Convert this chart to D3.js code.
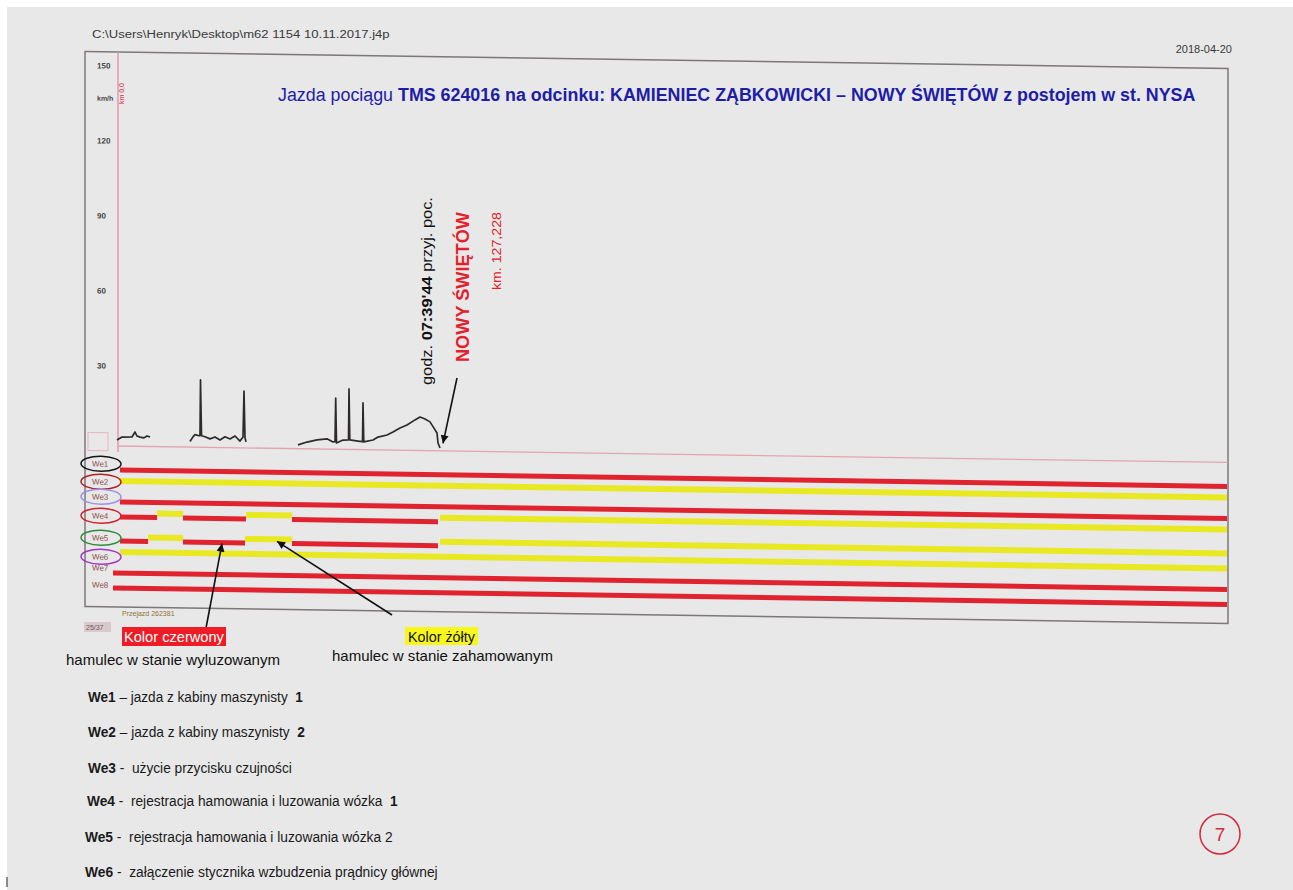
<!DOCTYPE html>
<html><head><meta charset="utf-8">
<script src="https://cdn.jsdelivr.net/npm/d3@7"></script>
<style>body{margin:0;background:#fff}svg{display:block}</style>
</head><body>
<svg id="c" width="1293" height="890"></svg>
<script>
// ================= DATA =================
// speed trace (time units along the record, km/h); null = no record
const speedTime  = [4,9,19,22,24,27,31,34,37,38,
                    77,80,82,86,87,87.5,88.5,92,97,102,107,112,117,122,127,130,131,132,133,134,
                    185,194,204,214,220,222,222.7,223.5,230,235.5,236,236.8,245,249.5,250,250.8,260,265,274,280,287,294,302,307,312,317,320,324,325,327];
const speedValue = [2.4,3.6,3.7,5.7,4.1,3.7,3.4,4.2,3.8,null,
                    2.2,4.1,5.0,4.6,4.6,26.9,4.6,4.2,3.4,4.2,3.0,4.3,3.5,4.7,2.7,4.3,22.7,4.0,2.4,null,
                    1.5,2.7,3.6,4.1,2.9,3.0,20.5,2.5,3.7,3.8,24.2,3.8,3.4,3.2,18.7,3.1,3.9,5.1,6.0,7.2,8.9,10.1,12.2,13.4,12.6,11.5,9.6,7.1,3.1,1.1];
const speedTicks = [30,60,90,120,150];
const speedUnitAt = 138;

// binary channels: [start, end, state]  state 0 = red (released), 1 = yellow (braked)
const channels = ["We1","We2","We3","We4","We5","We6","We7","We8"];
const segWe1 = [[7,1114,0]];
const segWe2 = [[7,1114,1]];
const segWe3 = [[7,1114,0]];
const segWe4 = [[7,44,0],[44,70,1],[70,133,0],[133,179,1],[179,325,0],[327,1114,1]];
const segWe5 = [[7,35,0],[35,70,1],[70,132,0],[132,179,1],[179,325,0],[327,1114,1]];
const segWe6 = [[7,1114,1]];
const segWe7 = [[0,1114,0]];
const segWe8 = [[0,1114,0]];
const channelSegs = [segWe1,segWe2,segWe3,segWe4,segWe5,segWe6,segWe7,segWe8];
const circledChannels = ["We1","We2","We3","We4","We5","We6"];
const circleColors = ["#151515","#b32025","#9b90e6","#d3202e","#2f8c3c","#a535c4"];

// legend
const legendCodes = ["We1","We2","We3","We4","We5","We6"];
const legendSep   = [" – "," – "," -  "," -  "," -  "," -  "];
const legendText  = ["jazda z kabiny maszynisty  ","jazda z kabiny maszynisty  ","użycie przycisku czujności",
                     "rejestracja hamowania i luzowania wózka  ","rejestracja hamowania i luzowania wózka 2",
                     "załączenie stycznika wzbudzenia prądnicy głównej"];
const legendBoldTail = ["1","2","","1","",""];

// annotation anchors (time, value)
const arrivalTime = 330, arrivalLabel = "07:39'44";
const redArrowAt = 109, yellowArrowAt = 164;

// ================= LAYOUT =================
const SANS = "'Liberation Sans',Arial,sans-serif";
const NARROW = "'Liberation Sans Narrow','Arial Narrow','Liberation Sans',Arial,sans-serif";
const k = Math.tan(0.85*Math.PI/180), X0 = 118;
const sk = (px,py) => py + (px - X0)*k;

const svg = d3.select("#c");
svg.append("rect").attr("width",1293).attr("height",890).attr("fill","#fff");
svg.append("rect").attr("x",7).attr("y",7).attr("width",1286).attr("height",883).attr("fill","#e8e8e8");

// fit a text horizontally to a width by scaling (narrow-font look)
function fit(sel, tx, ty, w, rot){
  const n = sel.node().getComputedTextLength();
  const s = w / n;
  sel.attr("transform", `translate(${tx},${ty})${rot ? ` rotate(${rot})` : ""} scale(${s},1)`);
  return sel;
}

const defs = svg.append("defs");
defs.append("marker").attr("id","ah").attr("viewBox","0 0 10 10").attr("refX",10).attr("refY",5)
  .attr("markerWidth",11).attr("markerHeight",8).attr("markerUnits","userSpaceOnUse").attr("orient","auto")
  .append("path").attr("d","M0,0L10,5L0,10z").attr("fill","#111");

const x = d3.scaleLinear().domain([0,1115]).range([113,1228]);
const y = d3.scaleLinear().domain([0,150]).range([446,71]);
const chY = d3.scaleOrdinal().domain(channels).range([470,485,502,517,541,556,573,588]);
const labY = d3.scaleOrdinal().domain(channels).range([464,482,497,516,538,557,568,585]);
const stateColor = ["#e1232f","#e8e823"];
const stateWidth = [5,6];
const lift = [0,4];

// header
fit(svg.append("text").attr("font-family",SANS).attr("font-size",11).attr("fill","#3a3a3a")
  .text("C:\\Users\\Henryk\\Desktop\\m62 1154 10.11.2017.j4p"), 92, 38, 298);
svg.append("text").attr("x",1232).attr("y",53).attr("text-anchor","end").attr("font-family",SANS)
  .attr("font-size",11).attr("fill","#3a3a3a").text("2018-04-20");

// ===== skewed chart (scanned sheet) =====
const g = svg.append("g").attr("transform",`translate(0,${-X0*k}) skewY(0.85)`);
g.append("rect").attr("x",85).attr("y",52).attr("width",1143).attr("height",555)
  .attr("fill","none").attr("stroke","#7d777a").attr("stroke-width",1.5);
g.append("line").attr("x1",118).attr("x2",118).attr("y1",52).attr("y2",452)
  .attr("stroke","#e59aac").attr("stroke-width",1.5);
g.append("line").attr("x1",118).attr("x2",1228).attr("y1",y(0)).attr("y2",y(0))
  .attr("stroke","#e2a6b2").attr("stroke-width",1.3);
g.append("rect").attr("x",88).attr("y",433).attr("width",20).attr("height",18)
  .attr("fill","none").attr("stroke","#e9b4bf").attr("stroke-width",1);

// speed axis labels
const ax = g.append("g").attr("transform","translate(97,0)")
  .call(d3.axisRight(y).tickValues(speedTicks).tickSize(0).tickPadding(0));
ax.select(".domain").remove();
ax.selectAll("text").attr("dy","-0.35em").attr("font-family",SANS).attr("font-size",8)
  .attr("font-weight","bold").attr("fill","#444");
g.append("text").attr("x",97).attr("y",y(speedUnitAt)).attr("font-family",SANS).attr("font-size",7)
  .attr("font-weight","bold").attr("fill","#444").text("km/h");
g.append("text").attr("transform","translate(124,104) rotate(-90)").attr("font-family",SANS)
  .attr("font-size",7).attr("fill","#d4203a").text("km 0,0");

// speed trace
const sp = speedTime.map((t,i)=>({t, v:speedValue[i]}));
g.append("path").datum(sp)
  .attr("d", d3.line().defined(d=>d.v!==null).x(d=>x(d.t)).y(d=>y(d.v)))
  .attr("fill","none").attr("stroke","#2e2a2b").attr("stroke-width",1.7).attr("stroke-linejoin","round");

// channel bars
channels.forEach((c,i)=>{
  g.selectAll(null).data(channelSegs[i]).enter().append("line")
    .attr("x1",d=>x(d[0])).attr("x2",d=>x(d[1]))
    .attr("y1",d=>chY(c)-lift[d[2]]).attr("y2",d=>chY(c)-lift[d[2]])
    .attr("stroke",d=>stateColor[d[2]]).attr("stroke-width",d=>stateWidth[d[2]]);
});
// channel labels
g.selectAll(null).data(channels).enter().append("text")
  .attr("x",92).attr("y",d=>labY(d)+3).attr("font-family",SANS).attr("font-size",8)
  .attr("fill","#8a4c4c").text(d=>d);
g.selectAll(null).data(circledChannels).enter().append("ellipse")
  .attr("cx",101).attr("cy",d=>labY(d)).attr("rx",20).attr("ry",7.5)
  .attr("fill","none").attr("stroke",(d,i)=>circleColors[i]).attr("stroke-width",1.5);

// small footer marks under the frame
svg.append("text").attr("x",122).attr("y",616).attr("font-family",SANS).attr("font-size",7)
  .attr("fill","#8c7230").text("Przejazd 262381");
svg.append("rect").attr("x",84).attr("y",622).attr("width",27).attr("height",10).attr("fill","#d9c9cd");
svg.append("text").attr("x",86).attr("y",630).attr("font-family",SANS).attr("font-size",7)
  .attr("fill","#6d5a5e").text("25/37");

// ===== title =====
const title = svg.append("text").attr("font-family",SANS).attr("font-size",17.8).attr("fill","#1d1da8");
title.append("tspan").text("Jazda pociągu ");
title.append("tspan").attr("font-weight","bold")
  .text("TMS 624016 na odcinku: KAMIENIEC ZĄBKOWICKI – NOWY ŚWIĘTÓW z postojem w st. NYSA");
fit(title, 278, 101, 917);

// ===== station annotation =====
const t1 = svg.append("text").attr("font-family",NARROW).attr("font-size",14).attr("fill","#111");
t1.append("tspan").text("godz.  ");
t1.append("tspan").attr("font-weight","bold").text(arrivalLabel);
t1.append("tspan").text("  przyj. poc.");
fit(t1, 432, 385, 188, -90);
fit(svg.append("text").attr("font-family",NARROW).attr("font-size",18).attr("font-weight","bold")
  .attr("fill","#e5202a").text("NOWY ŚWIĘTÓW"), 469, 362, 150, -90);
fit(svg.append("text").attr("font-family",NARROW).attr("font-size",13).attr("fill","#e5202a")
  .text("km. 127,228"), 501, 290, 78, -90);

// arrows (tips from scales)
const arrowLine = (x1,y1,x2,y2)=>svg.append("line").attr("x1",x1).attr("y1",y1).attr("x2",x2).attr("y2",y2)
  .attr("stroke","#111").attr("stroke-width",1.6).attr("marker-end","url(#ah)");
const ax3 = x(arrivalTime); arrowLine(457,378, ax3, sk(ax3, y(3)));
const ax1 = x(redArrowAt);  arrowLine(206,628, ax1, sk(ax1, chY("We5")+1));
const ax2 = x(yellowArrowAt); arrowLine(392,615, ax2, sk(ax2, chY("We5")-lift[1]+2));

// colour keys
svg.append("rect").attr("x",122).attr("y",627).attr("width",104).attr("height",19).attr("fill","#ee1c25");
fit(svg.append("text").attr("font-family",NARROW).attr("font-size",15).attr("fill","#fff")
  .text("Kolor czerwony"), 124, 642, 100);
fit(svg.append("text").attr("font-family",NARROW).attr("font-size",15).attr("fill","#111")
  .text("hamulec w stanie wyluzowanym"), 66, 665, 214);
svg.append("rect").attr("x",405).attr("y",627).attr("width",73).attr("height",18).attr("fill","#f7f71a");
fit(svg.append("text").attr("font-family",NARROW).attr("font-size",15).attr("fill","#111")
  .text("Kolor żółty"), 408, 642, 67);
fit(svg.append("text").attr("font-family",NARROW).attr("font-size",15).attr("fill","#111")
  .text("hamulec w stanie zahamowanym"), 332, 661, 221);

// legend list
const legY = [702,737,773,806,842,877];
const legX = [88,88,88,87,85,85];
const legW = [215,217,204,311,308,353];
legendCodes.forEach((c,i)=>{
  const tx = svg.append("text").attr("font-family",NARROW).attr("font-size",15).attr("fill","#1a1a1a")
    .attr("xml:space","preserve").style("white-space","pre");
  tx.append("tspan").attr("font-weight","bold").text(c);
  tx.append("tspan").text(legendSep[i] + legendText[i]);
  if (legendBoldTail[i]) tx.append("tspan").attr("font-weight","bold").text(legendBoldTail[i]);
  fit(tx, legX[i], legY[i], legW[i]);
});

// page number
svg.append("circle").attr("cx",1220).attr("cy",834).attr("r",20).attr("fill","none")
  .attr("stroke","#d8283c").attr("stroke-width",1.5);
svg.append("text").attr("x",1220).attr("y",841).attr("text-anchor","middle").attr("font-family",SANS)
  .attr("font-size",19).attr("fill","#d8283c").text("7");
svg.append("line").attr("x1",7).attr("x2",7).attr("y1",877).attr("y2",887).attr("stroke","#222").attr("stroke-width",1);
</script>
</body></html>
